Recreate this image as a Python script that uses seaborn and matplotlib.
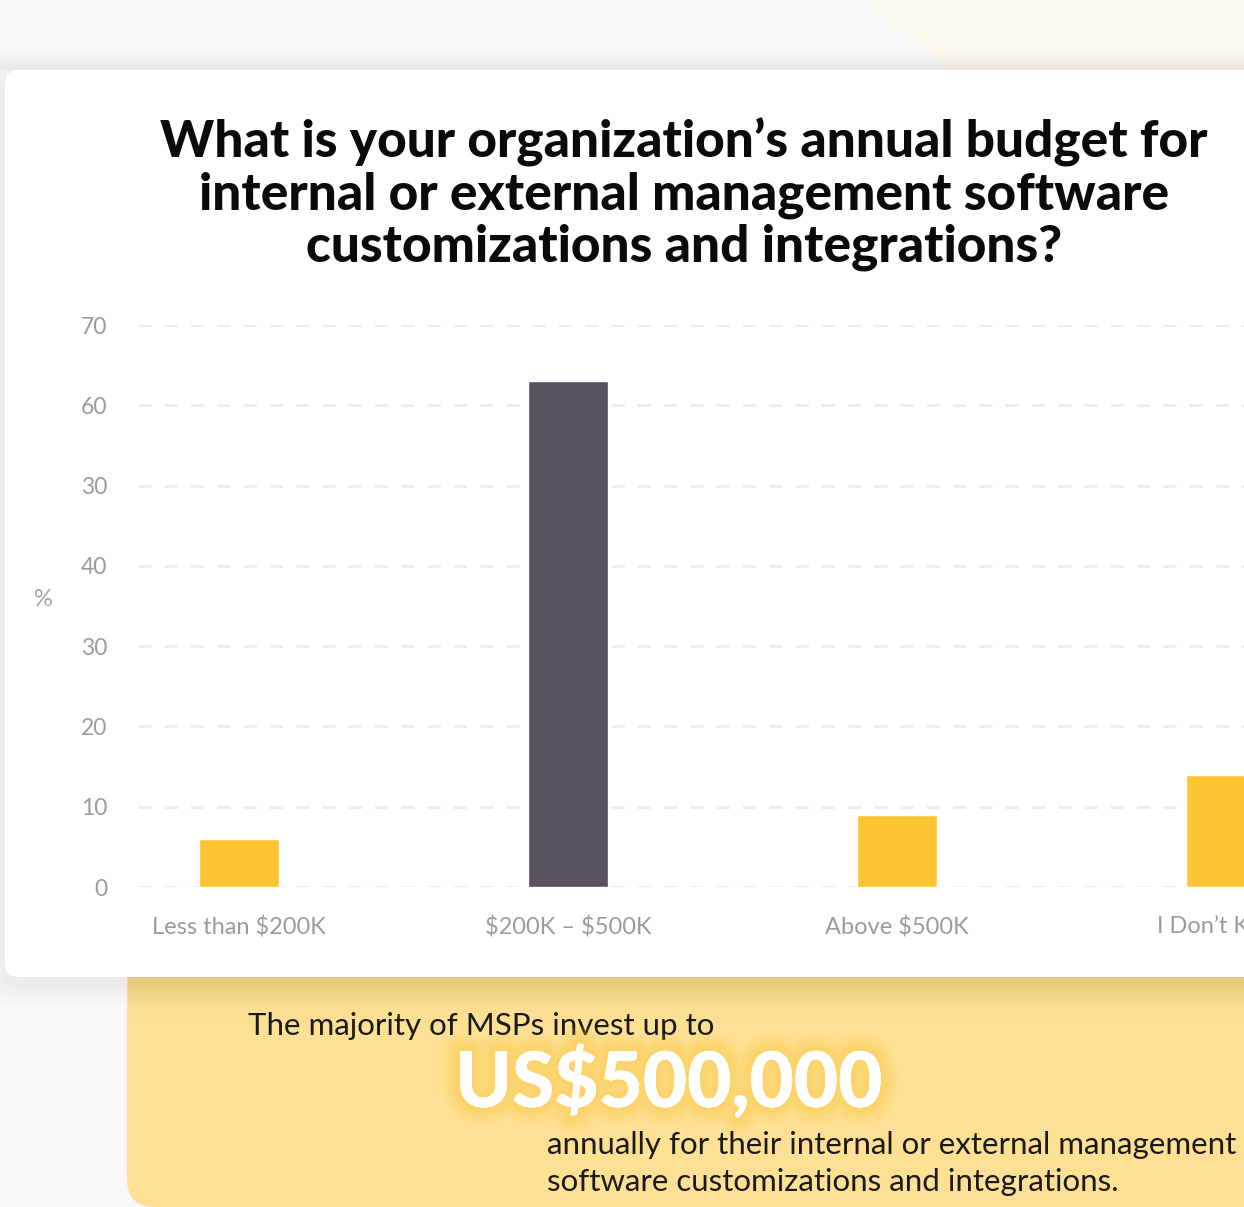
import numpy as np
import pandas as pd
import matplotlib
matplotlib.use("Agg")
import matplotlib.pyplot as plt
import matplotlib.patheffects as pe
from matplotlib.patches import FancyBboxPatch, Polygon, Rectangle
import seaborn as sns

# data
categories = ["Less than $200K", "$200K – $500K", "Above $500K", "I Don’t Know"]
values = [6, 63, 9, 14]
highlight = ["no", "yes", "no", "no"]
ytick_values = [0, 10, 20, 30, 40, 50, 60, 70]
ytick_labels = ["0", "10", "20", "30", "40", "30", "60", "70"]

title = ("What is your organization’s annual budget for\n"
         "internal or external management software\n"
         "customizations and integrations?")

YELLOW = "#fec433"
DARK = "#595260"

df = pd.DataFrame({"category": categories, "value": values, "highlight": highlight})

sns.set_theme(style="white")
plt.rcParams["font.family"] = ["Lato", "DejaVu Sans"]

W, H = 1244, 1207
fig = plt.figure(figsize=(W / 100, H / 100), dpi=100)
fig.patch.set_facecolor("#f8f8f8")

# background layer in pixel coordinates
bg = fig.add_axes([0, 0, 1, 1], zorder=0)
bg.set_xlim(0, W)
bg.set_ylim(H, 0)
bg.axis("off")

bg.add_patch(Polygon([(868, 0), (W, 0), (W, 75), (952, 75)], closed=True,
                     facecolor="#fbf8f0", edgecolor="none"))
for i in range(8):
    bg.add_patch(Rectangle((0, 50 + i * 2.5), W, 2.5, facecolor="#b0a890",
                           alpha=0.012 * (i + 1), edgecolor="none"))

# yellow summary panel
bg.add_patch(FancyBboxPatch((127, 930), 1200, 277, boxstyle="round,pad=0,rounding_size=28",
                            facecolor="#fde094", edgecolor="none"))
for i in range(25):
    bg.add_patch(Rectangle((128, 977 + i * 2), 1120, 2, facecolor="#d9b560",
                           alpha=0.22 * (1 - i / 25) ** 2, edgecolor="none"))

# soft card shadow
for i in range(12):
    g = 2 + i * 2
    bg.add_patch(FancyBboxPatch((5 - g, 70 - g + 6), 1300 + 2 * g, 907 + 2 * g,
                                boxstyle="round,pad=0,rounding_size=%d" % (14 + g),
                                facecolor="#000000", alpha=0.005, edgecolor="none"))
bg.add_patch(FancyBboxPatch((5, 70), 1300, 907, boxstyle="round,pad=0,rounding_size=14",
                            facecolor="white", edgecolor="none"))

bg.text(684, 194, title, ha="center", va="center", fontsize=37, fontweight="black",
        color="#0a0a0a", linespacing=1.12)

bg.text(43, 600, "%", ha="center", va="center", fontsize=17, color="#a0a0a0")

bg.text(248, 1026, "The majority of MSPs invest up to", ha="left", va="center",
        fontsize=22.5, color="#1a1a1a")
glow = [pe.withStroke(linewidth=w, foreground="#ffc83a", alpha=0.13) for w in (24, 17, 11, 6)]
bg.text(669, 1083, "US$500,000", ha="center", va="center", fontsize=55, fontweight="black",
        color="white", path_effects=glow + [pe.Normal()])
bg.text(547, 1145, "annually for their internal or external management", ha="left",
        va="center", fontsize=22.5, color="#1a1a1a")
bg.text(547, 1182, "software customizations and integrations.", ha="left",
        va="center", fontsize=22.5, color="#1a1a1a")

# chart
px_cat = 329.0
x0 = -101 / px_cat
x1 = 3.6
ax = fig.add_axes([138 / W, (H - 887) / H, (x1 - x0) * px_cat / W, 562 / H], zorder=2)
ax.set_facecolor("none")

sns.barplot(data=df, x="category", y="value", hue="highlight",
            palette={"no": YELLOW, "yes": DARK}, width=80 / px_cat,
            dodge=False, legend=False, ax=ax, zorder=3, saturation=1)

ax.set_xlim(x0, x1)
ax.set_ylim(0, 70)
ax.set_yticks(ytick_values)
ax.set_yticklabels(ytick_labels)
ax.set_xticks(range(len(categories)))
ax.set_xticklabels([c.replace("$", r"\$") for c in categories])
ax.yaxis.grid(True, color="#ececf1", linewidth=2.2, linestyle=(0, (4.3, 4.3)), zorder=0)
ax.xaxis.grid(False)
ax.set_axisbelow(True)
for s in ax.spines.values():
    s.set_visible(False)
ax.set_xlabel("")
ax.set_ylabel("")
ax.tick_params(axis="y", length=0, pad=22, labelsize=16.5, labelcolor="#9b9b9b")
ax.tick_params(axis="x", length=0, pad=21, labelsize=17, labelcolor="#9b9b9b")

fig.savefig("out.png", dpi=100, facecolor=fig.get_facecolor())
